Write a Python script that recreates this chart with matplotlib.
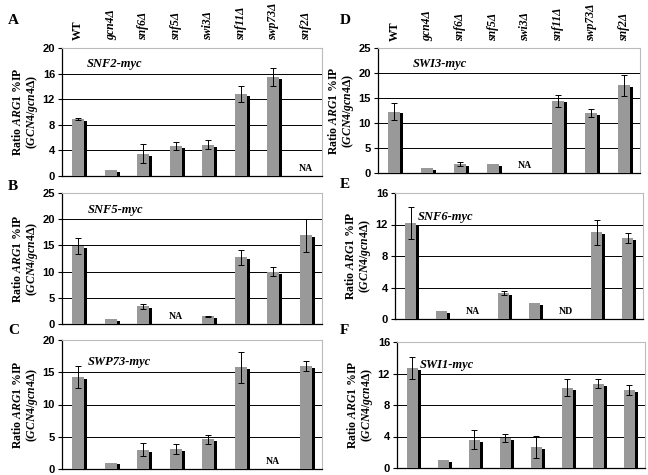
import numpy as np
import matplotlib.pyplot as plt

plt.rcParams['mathtext.fontset'] = 'custom'
plt.rcParams['mathtext.it'] = 'Liberation Serif:italic:bold'
plt.rcParams['mathtext.rm'] = 'Liberation Serif:bold'

strains = ['WT', 'gcn4Δ', 'snf6Δ', 'snf5Δ', 'swi3Δ', 'snf11Δ', 'swp73Δ', 'snf2Δ']
NA = np.nan

# panel A - SNF2-myc
snf2_val = [8.9, 1.0, 3.5, 4.7, 4.9, 12.8, 15.5, NA]
snf2_err = [0.1, 0.0, 1.5, 0.6, 0.7, 1.3, 1.4, NA]
# panel B - SNF5-myc
snf5_val = [14.9, 1.0, 3.4, NA, 1.5, 12.7, 10.0, 16.9]
snf5_err = [1.6, 0.0, 0.5, NA, 0.1, 1.4, 0.8, 3.1]
# panel C - SWP73-myc
swp73_val = [14.2, 1.0, 3.0, 3.1, 4.6, 15.8, NA, 16.0]
swp73_err = [1.7, 0.0, 1.0, 0.8, 0.7, 2.4, NA, 0.8]
# panel D - SWI3-myc
swi3_val = [12.3, 1.0, 1.8, 1.8, NA, 14.5, 12.0, 17.6]
swi3_err = [1.7, 0.0, 0.4, 0.0, NA, 1.2, 0.8, 2.1]
# panel E - SNF6-myc
snf6_val = [12.2, 1.0, NA, 3.3, 2.0, NA, 11.0, 10.3]
snf6_err = [2.0, 0.0, NA, 0.2, 0.0, NA, 1.6, 0.6]
# panel F - SWI1-myc
swi1_val = [12.7, 1.0, 3.6, 3.8, 2.7, 10.2, 10.7, 9.9]
swi1_err = [1.4, 0.0, 1.2, 0.5, 1.4, 1.1, 0.6, 0.6]

W, H = 648, 475

panels = [
    # letter, title, values, errors, ymax, step, missing labels,
    # axes box in pixels (left, top, right, bottom), letter pos, title pos
    ('A', 'SNF2-myc', snf2_val, snf2_err, 20, 4, {7: 'NA'},
     (62, 48, 322, 176), (8, 20), (0.25, 16.6)),
    ('D', 'SWI3-myc', swi3_val, swi3_err, 25, 5, {4: 'NA'},
     (378, 48, 640, 173), (340, 20), (0.55, 20.6)),
    ('B', 'SNF5-myc', snf5_val, snf5_err, 25, 5, {3: 'NA'},
     (62, 193, 322, 324), (8, 186), (0.3, 20.6)),
    ('E', 'SNF6-myc', snf6_val, snf6_err, 16, 4, {2: 'NA', 5: 'ND'},
     (395, 193, 643, 319), (340, 185), (0.25, 12.2)),
    ('C', 'SWP73-myc', swp73_val, swp73_err, 20, 5, {6: 'NA'},
     (62, 340, 322, 469), (8, 330), (0.3, 15.6)),
    ('F', 'SWI1-myc', swi1_val, swi1_err, 16, 4, {},
     (397, 342, 645, 468), (340, 331), (0.25, 12.3)),
]

fig = plt.figure(figsize=(6.48, 4.75), dpi=100)
x = np.arange(len(strains))
w = 0.37

for letter, title, vals, errs, ymax, step, missing, box, lpos, tpos in panels:
    l, t, r, b = box
    ax = fig.add_axes([l / W, 1 - b / H, (r - l) / W, (b - t) / H])
    vals = np.array(vals, dtype=float)
    errs = np.array(errs, dtype=float)
    ok = ~np.isnan(vals)
    shade = 0.015 * ymax
    ax.bar(x[ok] + 0.09, vals[ok] - shade, w, color='black', zorder=2)
    ax.bar(x[ok], vals[ok], w, color='#999999', zorder=3)
    has_err = ok & (errs > 0)
    ax.errorbar(x[has_err], vals[has_err], yerr=errs[has_err], fmt='none',
                ecolor='black', elinewidth=0.7, capsize=2.5, capthick=0.7, zorder=4)
    for i, lab in missing.items():
        ax.text(i, 0.06 * ymax, lab, ha='center', va='center', fontsize=7,
                fontweight='bold', family='Liberation Serif')
    ax.text(tpos[0], tpos[1], title, fontsize=9, fontweight='bold', style='italic',
            family='Liberation Serif', va='bottom')
    ax.set_xlim(-0.5, len(strains) - 0.5)
    ax.set_ylim(0, ymax)
    ticks = np.arange(0, ymax + 1, step)
    ax.set_yticks(ticks)
    ax.set_yticklabels([str(v) for v in ticks], fontsize=8, fontweight='bold',
                       family='Liberation Sans')
    ax.set_xticks([])
    for v in ticks[1:]:
        ax.axhline(v, color='black', lw=0.7, zorder=1)
    for s in ['top', 'right']:
        ax.spines[s].set_color('#bbbbbb')
        ax.spines[s].set_linewidth(0.8)
    ax.spines['left'].set_linewidth(0.9)
    ax.spines['bottom'].set_linewidth(0.9)
    ax.tick_params(axis='y', length=3, width=0.8, pad=2)
    ax.set_ylabel('Ratio $\\mathit{ARG1}$ %IP\n$\\mathit{(GCN4/gcn4Δ)}$', fontsize=8.5,
                  fontweight='bold', family='Liberation Serif', labelpad=2,
                  linespacing=0.95)
    fig.text(lpos[0] / W, 1 - lpos[1] / H, letter, fontsize=11,
             fontweight='bold', family='Liberation Serif', va='center')
    if letter in ('A', 'D'):
        for i, s in enumerate(strains):
            ax.text(i, ymax * 1.06, s, rotation=90, ha='center', va='bottom',
                    fontsize=8.5, fontweight='bold', family='Liberation Serif',
                    style='normal' if s == 'WT' else 'italic')

fig.savefig('out.png', dpi=100)
